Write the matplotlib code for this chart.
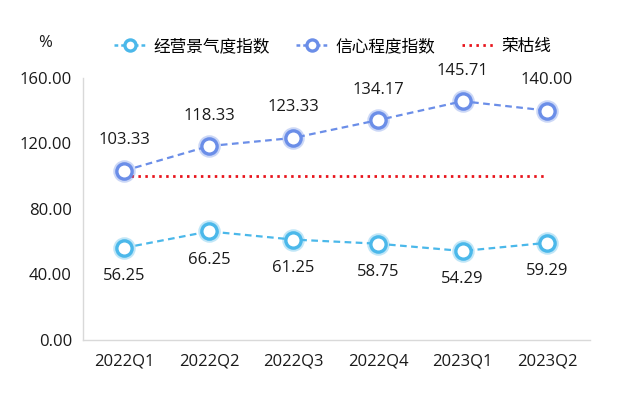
import matplotlib.pyplot as plt
from matplotlib.lines import Line2D

plt.rcParams['font.family'] = ['Open Sans', 'Noto Sans CJK SC', 'DejaVu Sans']

quarters = ['2022Q1', '2022Q2', '2022Q3', '2022Q4', '2023Q1', '2023Q2']
business = [56.25, 66.25, 61.25, 58.75, 54.29, 59.29]
confidence = [103.33, 118.33, 123.33, 134.17, 145.71, 140.00]
boom_line = [100, 100, 100, 100, 100, 100]
y_ticks = [0, 40, 80, 120, 160]

c_bus = '#4bb8ea'
c_conf = '#6b8ee8'
c_red = '#e8141c'
txt = '#1a1a1a'

fig = plt.figure(figsize=(6.17, 3.93), dpi=100)
ax = fig.add_axes([0.1345, 0.135, 0.822, 0.667])
x = list(range(len(quarters)))

ax.plot(x, boom_line, color=c_red, linestyle=(0, (0.9, 1.6)), linewidth=2.0, zorder=2)

for ys, col in [(business, c_bus), (confidence, c_conf)]:
    ax.plot(x, ys, color=col, linestyle=(0, (3, 2)), linewidth=1.6, zorder=3)
    # soft glow around the markers
    ax.plot(x, ys, linestyle='none', marker='o', markersize=13, markerfacecolor='none',
            markeredgecolor=col, markeredgewidth=3.2, alpha=0.35, zorder=4)
    ax.plot(x, ys, linestyle='none', marker='o', markersize=11, markerfacecolor='white',
            markeredgecolor=col, markeredgewidth=2.4, zorder=5)

for xi, v in zip(x, business):
    ax.annotate(f'{v:.2f}', (xi, v), xytext=(0, -20.5), textcoords='offset points',
                ha='center', va='center', fontsize=12, color=txt)
for xi, v in zip(x, confidence):
    ax.annotate(f'{v:.2f}', (xi, v), xytext=(0, 22), textcoords='offset points',
                ha='center', va='center', fontsize=12, color=txt)

ax.set_xlim(-0.49, 5.51)
ax.set_ylim(0, 160)
ax.set_yticks(y_ticks)
ax.set_yticklabels([f'{t:.2f}' for t in y_ticks])
ax.set_xticks(x)
ax.set_xticklabels(quarters)
ax.tick_params(length=0, labelsize=12, colors=txt, pad=8)
ax.tick_params(axis='x', pad=10)
for s in ['top', 'right']:
    ax.spines[s].set_visible(False)
for s in ['left', 'bottom']:
    ax.spines[s].set_color('#d9d9d9')
    ax.spines[s].set_linewidth(1)

fig.text(45 / 617, 1 - 43 / 393, '%', ha='center', va='center', fontsize=12, color=txt)

handles = [
    Line2D([], [], color=c_bus, linestyle=(0, (1.5, 1.2)), linewidth=1.8, marker='o', markersize=8,
           markerfacecolor='white', markeredgecolor=c_bus, markeredgewidth=2.4),
    Line2D([], [], color=c_conf, linestyle=(0, (1.5, 1.2)), linewidth=1.8, marker='o', markersize=8,
           markerfacecolor='white', markeredgecolor=c_conf, markeredgewidth=2.4),
    Line2D([], [], color=c_red, linestyle=(0, (0.9, 1.6)), linewidth=2.0),
]
fig.legend(handles, ['经营景气度指数', '信心程度指数', '荣枯线'], loc='center',
           bbox_to_anchor=(0.539, 1 - 47 / 393), ncol=3, frameon=False, fontsize=12,
           handlelength=1.9, columnspacing=1.6, handletextpad=0.45)

fig.savefig('out.png', dpi=100)
